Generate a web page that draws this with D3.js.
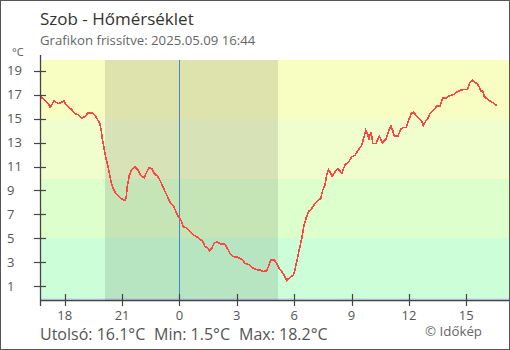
<!DOCTYPE html>
<html>
<head>
<meta charset="utf-8">
<script src="https://cdn.jsdelivr.net/npm/d3@7"></script>
<style>
  html, body { margin: 0; padding: 0; background: #fff; }
  svg { display: block; font-family: "Open Sans", "Noto Sans", sans-serif; }
</style>
</head>
<body>
<svg id="chart" width="510" height="350"></svg>
<script>
// Temperature readings: hours relative to midnight (2025.05.09) and °C
const hours = [-7.26,-7.05,-6.87,-6.77,-6.70,-6.56,-6.44,-6.32,-6.18,-6.05,-5.97,-5.83,-5.66,-5.48,-5.27,-5.10,-4.96,-4.78,-4.57,-4.43,-4.30,-4.17,-4.09,-4.04,-3.96,-3.86,-3.74,-3.65,-3.56,-3.48,-3.30,-3.13,-2.95,-2.83,-2.78,-2.73,-2.62,-2.50,-2.33,-2.15,-2.03,-1.85,-1.71,-1.58,-1.44,-1.32,-1.16,-1.02,-0.90,-0.76,-0.62,-0.46,-0.32,-0.18,-0.06,0.08,0.20,0.38,0.52,0.69,0.90,1.08,1.22,1.34,1.46,1.56,1.69,1.82,1.98,2.16,2.38,2.50,2.64,2.82,3.03,3.26,3.43,3.65,3.86,4.07,4.21,4.39,4.56,4.65,4.77,4.95,5.09,5.21,5.35,5.47,5.61,5.75,5.95,6.04,6.13,6.22,6.34,6.43,6.51,6.62,6.74,6.92,7.09,7.26,7.39,7.49,7.61,7.70,7.79,7.87,7.99,8.14,8.28,8.49,8.66,8.83,9.01,9.18,9.35,9.53,9.65,9.74,9.83,9.91,10.02,10.11,10.28,10.45,10.61,10.79,10.92,11.06,11.15,11.24,11.42,11.59,11.71,11.85,11.97,12.11,12.23,12.37,12.54,12.67,12.75,12.90,13.02,13.10,13.28,13.46,13.63,13.72,13.77,13.98,14.11,14.32,14.50,14.67,14.85,15.06,15.11,15.20,15.32,15.42,15.58,15.68,15.76,15.86,15.94,16.07,16.24,16.42,16.59];
const temps = [16.83,16.55,16.27,15.95,16.1,16.5,16.36,16.27,16.36,16.5,16.27,16.0,15.8,15.44,15.3,15.05,15.17,15.47,15.5,15.3,14.97,14.6,14.05,13.36,12.67,11.83,11.0,10.3,9.6,9.19,8.69,8.44,8.22,8.17,8.55,9.3,10.27,10.75,10.97,10.69,10.27,10.05,10.55,10.92,10.83,10.42,10.22,9.86,9.44,8.94,8.47,7.92,7.72,7.22,6.8,6.52,5.97,5.88,5.61,5.33,5.13,4.92,4.75,4.3,4.25,3.97,4.17,4.63,4.69,4.53,4.5,4.17,3.75,3.47,3.42,3.25,2.92,2.78,2.5,2.36,2.36,2.22,2.3,2.63,3.19,3.19,2.92,2.5,2.22,1.94,1.5,1.7,1.94,2.36,3.05,3.75,4.58,5.28,6.1,6.67,7.22,7.5,7.92,8.19,8.33,9.03,9.44,10.27,10.75,10.55,10.19,10.55,10.83,10.45,11.15,11.35,11.8,11.94,12.36,12.78,13.47,14.03,13.75,13.33,13.89,12.92,12.92,13.55,13.0,13.28,13.89,14.39,14.03,13.53,13.53,14.17,14.25,14.25,14.78,15.42,15.55,15.28,15.0,14.78,14.44,14.86,15.1,15.42,15.69,16.05,16.05,16.5,16.75,16.75,16.92,17.0,17.22,17.36,17.42,17.42,17.63,18.05,18.2,18.05,17.92,17.63,17.3,17.3,16.86,16.67,16.47,16.3,16.1];

// Axis ticks
const xTickHours = [-6, -3, 0, 3, 6, 9, 12, 15];
const xTickLabels = ["18", "21", "0", "3", "6", "9", "12", "15"];
const yTicks = [1, 3, 5, 7, 9, 11, 13, 15, 17, 19];

// Temperature bands (°C thresholds) and night interval (sunset → sunrise)
const bandEdges = [-5, 0, 5, 10, 15, 30];
const bandColors = ["#cfe3f8", "#ccffd8", "#ddffcc", "#f0fdcc", "#f8fdc2"];
const night = [-3.89, 5.14];

const title = "Szob - Hőmérséklet";
const subtitle = "Grafikon frissítve: 2025.05.09 16:44";
const stats = ["Utolsó: 16.1°C", "Min: 1.5°C", "Max: 18.2°C"];

const svg = d3.select("#chart");
const pLeft = 40.5, pRight = 509, pTop = 60, pBottom = 300;

const x = d3.scaleLinear().domain([-7.267, 17.233]).range([pLeft, pRight]);
const y = d3.scaleLinear().domain([-0.15, 19.9]).range([pBottom, pTop]);

const plot = svg.append("g");
const clipId = "plotclip";
svg.append("clipPath").attr("id", clipId)
  .append("rect").attr("x", pLeft).attr("y", pTop)
  .attr("width", pRight - pLeft).attr("height", pBottom - pTop);

// Background bands
plot.append("g").attr("clip-path", `url(#${clipId})`)
  .selectAll("rect").data(bandColors).join("rect")
  .attr("x", pLeft).attr("width", pRight - pLeft)
  .attr("y", (c, i) => y(bandEdges[i + 1]))
  .attr("height", (c, i) => y(bandEdges[i]) - y(bandEdges[i + 1]))
  .attr("fill", c => c)
  .attr("shape-rendering", "crispEdges");

// Night shading
plot.append("rect")
  .attr("x", x(night[0])).attr("width", x(night[1]) - x(night[0]))
  .attr("y", pTop).attr("height", pBottom - pTop)
  .attr("fill", "rgba(0,0,0,0.1)")
  .attr("shape-rendering", "crispEdges");

// Midnight marker
plot.append("line")
  .attr("x1", Math.round(x(0)) + 0.5).attr("x2", Math.round(x(0)) + 0.5)
  .attr("y1", pTop).attr("y2", pBottom)
  .attr("stroke", "#3f8cc0").attr("stroke-width", 1);

// Temperature line
const pts = hours.map((h, i) => [h, temps[i]]);
plot.append("path")
  .datum(pts)
  .attr("d", d3.line().x(d => x(d[0])).y(d => y(d[1])))
  .attr("fill", "none")
  .attr("stroke", "#ff4444")
  .attr("stroke-width", 1.6)
  .attr("shape-rendering", "crispEdges");

const axisColor = "#444";
const labelColor = "#555";

// Y axis
svg.append("line")
  .attr("x1", pLeft).attr("x2", pLeft).attr("y1", pTop - 5).attr("y2", pBottom + 6)
  .attr("stroke", axisColor).attr("stroke-width", 1.3);
svg.append("g").selectAll("line").data(yTicks).join("line")
  .attr("x1", 34).attr("x2", 46)
  .attr("y1", d => Math.round(y(d)) + 0.5).attr("y2", d => Math.round(y(d)) + 0.5)
  .attr("stroke", axisColor).attr("stroke-width", 1.2);
svg.append("g").selectAll("text").data(yTicks).join("text")
  .attr("x", 7).attr("y", d => y(d) + 4.5)
  .attr("font-size", 13).attr("fill", labelColor)
  .text(d => d);
svg.append("text").attr("x", 12).attr("y", 56)
  .attr("font-size", 11).attr("fill", labelColor).text("°C");

// X axis
svg.append("line")
  .attr("x1", pLeft).attr("x2", pRight).attr("y1", pBottom + 0.5).attr("y2", pBottom + 0.5)
  .attr("stroke", axisColor).attr("stroke-width", 1.3);
svg.append("g").selectAll("line").data(xTickHours).join("line")
  .attr("x1", d => Math.round(x(d)) + 0.5).attr("x2", d => Math.round(x(d)) + 0.5)
  .attr("y1", pBottom - 6).attr("y2", pBottom + 6)
  .attr("stroke", axisColor).attr("stroke-width", 1.2);
svg.append("g").selectAll("text").data(xTickHours).join("text")
  .attr("x", d => x(d)).attr("y", 320)
  .attr("text-anchor", "middle")
  .attr("font-size", 13).attr("fill", labelColor)
  .text((d, i) => xTickLabels[i]);

// Titles
svg.append("text").attr("x", 40).attr("y", 25)
  .attr("font-size", 17).attr("fill", "#333").text(title);
svg.append("text").attr("x", 40).attr("y", 45)
  .attr("font-size", 13.2).attr("fill", "#666").text(subtitle);

// Summary line
const statX = [40, 154, 239];
svg.append("g").selectAll("text").data(stats).join("text")
  .attr("x", (d, i) => statX[i]).attr("y", 339.5)
  .attr("font-size", 16).attr("fill", labelColor)
  .text(d => d);
svg.append("text").attr("x", 482).attr("y", 336)
  .attr("text-anchor", "end")
  .attr("font-size", 13.3).attr("fill", "#666").text("© Időkép");

// Outer frame
svg.append("rect").attr("x", 0.5).attr("y", 0.5).attr("width", 509).attr("height", 349)
  .attr("fill", "none").attr("stroke", "#555").attr("stroke-width", 1);
</script>
</body>
</html>
